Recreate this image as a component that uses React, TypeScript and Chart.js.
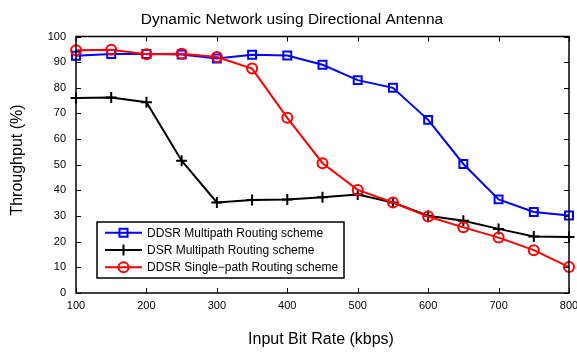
import React, { useEffect, useRef } from "react";
import { Chart, registerables } from "chart.js";

Chart.register(...registerables);

const bitRates = [100, 150, 200, 250, 300, 350, 400, 450, 500, 550, 600, 650, 700, 750, 800];
const ddsrMultipath = [92.5, 93.2, 93.2, 93.0, 91.4, 92.9, 92.6, 89.0, 83.0, 80.0, 67.5, 50.3, 36.5, 31.6, 30.2];
const dsrMultipath = [76.0, 76.2, 74.4, 51.6, 35.3, 36.3, 36.5, 37.3, 38.4, 35.3, 30.1, 28.2, 25.0, 22.0, 21.8];
const ddsrSinglePath = [94.6, 94.8, 93.1, 93.3, 92.0, 87.5, 68.3, 50.6, 40.2, 35.3, 29.8, 25.6, 21.6, 16.7, 10.1];
const xTicks = [100, 200, 300, 400, 500, 600, 700, 800];
const yTicks = [0, 10, 20, 30, 40, 50, 60, 70, 80, 90, 100];

const titleText = "Dynamic Network using Directional Antenna";
const xLabel = "Input Bit Rate (kbps)";
const yLabel = "Throughput (%)";
const legendLabels = [
  "DDSR Multipath Routing scheme",
  "DSR Multipath Routing scheme",
  "DDSR Single\u2212path Routing scheme",
];

const FONT = "'Liberation Sans', Arial, Helvetica, sans-serif";

function drawMarker(ctx: CanvasRenderingContext2D, style: string, x: number, y: number, color: string) {
  ctx.save();
  ctx.strokeStyle = color;
  ctx.lineWidth = 2;
  ctx.beginPath();
  if (style === "rect") {
    ctx.rect(x - 4, y - 4, 8, 8);
  } else if (style === "circle") {
    ctx.arc(x, y, 5, 0, Math.PI * 2);
  } else {
    ctx.moveTo(x - 5.5, y);
    ctx.lineTo(x + 5.5, y);
    ctx.moveTo(x, y - 5.5);
    ctx.lineTo(x, y + 5.5);
  }
  ctx.stroke();
  ctx.restore();
}

const decorPlugin = {
  id: "decor",
  afterDraw(chart: any) {
    const { ctx, chartArea: a, scales } = chart;
    ctx.save();
    // frame
    ctx.strokeStyle = "#000";
    ctx.lineWidth = 1.5;
    ctx.strokeRect(a.left, a.top, a.right - a.left, a.bottom - a.top);
    // inward ticks
    ctx.lineWidth = 1;
    ctx.beginPath();
    for (const v of xTicks) {
      const px = Math.round(scales.x.getPixelForValue(v)) + 0.5;
      ctx.moveTo(px, a.bottom);
      ctx.lineTo(px, a.bottom - 5);
      ctx.moveTo(px, a.top);
      ctx.lineTo(px, a.top + 5);
    }
    for (const v of yTicks) {
      const py = Math.round(scales.y.getPixelForValue(v)) + 0.5;
      ctx.moveTo(a.left, py);
      ctx.lineTo(a.left + 5, py);
      ctx.moveTo(a.right, py);
      ctx.lineTo(a.right - 5, py);
    }
    ctx.stroke();

    // title
    ctx.fillStyle = "#000";
    ctx.font = `15.5px ${FONT}`;
    ctx.textAlign = "center";
    ctx.textBaseline = "middle";
    ctx.fillText(titleText, 292, 20);

    // x label
    ctx.font = `16px ${FONT}`;
    ctx.fillText(xLabel, 321, 340);

    // y label
    ctx.save();
    ctx.translate(18, 160);
    ctx.rotate(-Math.PI / 2);
    ctx.fillText(yLabel, 0, 0);
    ctx.restore();

    // legend
    const lx = 97, ly = 222, lw = 247, lh = 56;
    ctx.fillStyle = "#fff";
    ctx.fillRect(lx, ly, lw, lh);
    ctx.strokeStyle = "#000";
    ctx.lineWidth = 1.5;
    ctx.strokeRect(lx, ly, lw, lh);
    const rows = [232.7, 250, 267.3];
    const colors = ["#0000ff", "#000000", "#ff0000"];
    const styles = ["rect", "cross", "circle"];
    ctx.font = `12px ${FONT}`;
    ctx.textAlign = "left";
    ctx.textBaseline = "middle";
    for (let i = 0; i < 3; i++) {
      ctx.strokeStyle = colors[i];
      ctx.lineWidth = 2;
      ctx.beginPath();
      ctx.moveTo(105, rows[i]);
      ctx.lineTo(142, rows[i]);
      ctx.stroke();
      drawMarker(ctx, styles[i], 123.5, rows[i], colors[i]);
      ctx.fillStyle = "#000";
      ctx.fillText(legendLabels[i], 147, rows[i] + 0.5);
    }
    ctx.restore();
  },
};

export default function App() {
  const canvasRef = useRef<HTMLCanvasElement | null>(null);

  useEffect(() => {
    document.body.style.margin = "0";
    const canvas = canvasRef.current;
    if (!canvas) return;
    const mk = (vals: number[]) => bitRates.map((x, i) => ({ x, y: vals[i] }));
    const chart = new Chart(canvas, {
      type: "line",
      data: {
        datasets: [
          {
            label: legendLabels[0],
            data: mk(ddsrMultipath),
            borderColor: "#0000ff",
            backgroundColor: "transparent",
            borderWidth: 2,
            pointStyle: "rect",
            pointRadius: 5.6,
            pointBorderWidth: 2,
            pointBorderColor: "#0000ff",
            pointBackgroundColor: "transparent",
            order: 2,
            clip: false as any,
          },
          {
            label: legendLabels[1],
            data: mk(dsrMultipath),
            borderColor: "#000000",
            backgroundColor: "transparent",
            borderWidth: 2,
            pointStyle: "cross",
            pointRadius: 5.5,
            pointBorderWidth: 2,
            pointBorderColor: "#000000",
            pointBackgroundColor: "transparent",
            order: 1,
            clip: false as any,
          },
          {
            label: legendLabels[2],
            data: mk(ddsrSinglePath),
            borderColor: "#ff0000",
            backgroundColor: "transparent",
            borderWidth: 2,
            pointStyle: "circle",
            pointRadius: 5,
            pointBorderWidth: 2,
            pointBorderColor: "#ff0000",
            pointBackgroundColor: "transparent",
            order: 0,
            clip: false as any,
          },
        ],
      },
      options: {
        animation: false,
        responsive: false,
        maintainAspectRatio: false,
        layout: { padding: { left: 0, top: 36.5, right: 8, bottom: 0 } },
        plugins: {
          legend: { display: false },
          title: { display: false },
          tooltip: { enabled: false },
        },
        scales: {
          x: {
            type: "linear",
            min: 100,
            max: 800,
            afterFit: (s: any) => {
              s.height = 59;
              s.paddingLeft = 0;
              s.paddingRight = 0;
            },
            afterBuildTicks: (s: any) => {
              s.ticks = xTicks.map((v) => ({ value: v }));
            },
            grid: { display: false, drawTicks: false },
            border: { display: false },
            ticks: {
              color: "#000",
              padding: 6,
              maxRotation: 0,
              autoSkip: false,
              font: { family: FONT, size: 11 },
            },
          },
          y: {
            type: "linear",
            min: 0,
            max: 100,
            afterFit: (s: any) => {
              s.width = 76;
              s.paddingTop = 0;
              s.paddingBottom = 0;
            },
            afterBuildTicks: (s: any) => {
              s.ticks = yTicks.map((v) => ({ value: v }));
            },
            grid: { display: false, drawTicks: false },
            border: { display: false },
            ticks: {
              color: "#000",
              padding: 10,
              autoSkip: false,
              font: { family: FONT, size: 11 },
            },
          },
        },
      },
      plugins: [decorPlugin],
    });
    return () => chart.destroy();
  }, []);

  return (
    <div style={{ position: "fixed", left: 0, top: 0, width: 577, height: 352, background: "#fff" }}>
      <canvas ref={canvasRef} width={577} height={352} style={{ width: 577, height: 352 }} />
    </div>
  );
}
